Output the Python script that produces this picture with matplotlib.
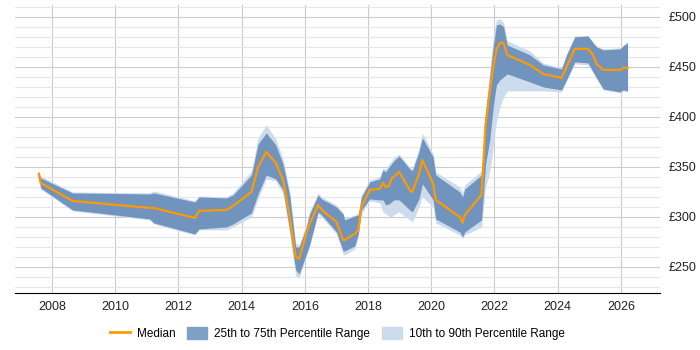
import matplotlib
matplotlib.use("Agg")
import matplotlib.pyplot as plt
from matplotlib.patches import Patch
from matplotlib.lines import Line2D
import numpy as np

plt.rcParams['font.family'] = ['Liberation Sans', 'DejaVu Sans']

# decimal year, then 10th, 25th, median, 75th, 90th percentile
years = [2007.58, 2007.64, 2008.65, 2011.09, 2011.22, 2012.52, 2012.65, 2013.52, 2013.73,
         2014.31, 2014.52, 2014.78, 2015.08, 2015.31, 2015.52, 2015.71, 2015.82, 2016.05,
         2016.15, 2016.42, 2016.53, 2017.00, 2017.21, 2017.26, 2017.58, 2017.69, 2017.79,
         2018.05, 2018.37, 2018.47, 2018.56, 2018.66, 2018.74, 2018.81, 2018.98, 2019.32,
         2019.40, 2019.61, 2019.72, 2020.06, 2020.14, 2020.90, 2020.99, 2021.06, 2021.59,
         2021.72, 2021.85, 2021.96, 2022.06, 2022.17, 2022.29, 2022.40, 2023.12, 2023.54,
         2024.12, 2024.28, 2024.54, 2024.96, 2025.12, 2025.23, 2025.44, 2025.97, 2026.07,
         2026.21]
p10 = [342, 328, 306, 297, 293, 282, 287, 287, 290,
       300, 318, 338, 336, 323, 283, 241, 239, 261,
       270, 303, 300, 283, 263, 262, 268, 280, 303,
       316, 314, 305, 303, 301, 300, 302, 305, 297,
       295, 310, 320, 310, 294, 282, 278, 282, 290,
       330, 345, 370, 395, 410, 420, 426, 426, 426,
       425, 436, 453, 452, 444, 438, 427, 424, 426,
       425]
p25 = [340, 329, 307, 298, 294, 283, 288, 290, 293,
       304, 323, 342, 338, 327, 287, 247, 243, 263,
       272, 305, 302, 285, 266, 266, 271, 283, 307,
       318, 317, 317, 312, 313, 315, 317, 317, 307,
       305, 318, 333, 317, 298, 285, 280, 285, 297,
       353, 377, 410, 432, 437, 440, 443, 435, 430,
       427, 437, 455, 454, 445, 439, 428, 425, 427,
       426]
median = [343, 334, 316, 309, 309, 299, 306, 307, 311,
          325, 350, 365, 354, 337, 300, 260, 258, 284,
          293, 312, 307, 295, 277, 277, 283, 287, 310,
          327, 328, 334, 330, 331, 338, 340, 345, 327,
          325, 343, 357, 333, 317, 300, 294, 302, 322,
          393, 425, 450, 467, 474, 474, 462, 452, 443,
          439, 450, 468, 468, 462, 453, 447, 447, 449,
          449]
p75 = [345, 339, 324, 323, 324, 315, 320, 319, 322,
       342, 373, 384, 372, 353, 322, 270, 270, 290,
       303, 322, 318, 310, 303, 297, 301, 302, 320,
       335, 338, 347, 345, 350, 353, 356, 361, 348,
       346, 365, 379, 360, 342, 325, 320, 328, 342,
       403, 440, 470, 492, 493, 490, 472, 462, 452,
       448, 462, 480, 481, 474, 470, 467, 468, 471,
       474]
p90 = [347, 341, 325, 324, 326, 316, 321, 320, 324,
       346, 379, 392, 378, 358, 326, 274, 272, 293,
       305, 324, 320, 312, 304, 299, 302, 304, 322,
       337, 340, 349, 348, 353, 356, 359, 363, 350,
       348, 369, 384, 363, 345, 330, 324, 332, 346,
       410, 445, 480, 497, 498, 494, 476, 466, 454,
       449, 463, 481, 481, 475, 471, 468, 469, 472,
       475]

fig = plt.figure(figsize=(7, 3.5), dpi=100)
ax = fig.add_axes([0.021, 0.163, 0.922, 0.823])

ax.fill_between(years, p10, p90, color='#cddcec', linewidth=0)
ax.fill_between(years, p25, p75, color='#7094be', linewidth=0)
ax.plot(years, median, color='#ff9900', linewidth=1.6)

ax.set_xlim(2006.82, 2027.24)
ax.set_ylim(224, 512)
ax.set_xticks(range(2008, 2027, 2))
ax.set_yticks(range(250, 501, 50))
ax.set_yticks(range(230, 512, 10), minor=True)
ax.set_yticklabels(['£%d' % v for v in range(250, 501, 50)])
ax.yaxis.tick_right()
ax.tick_params(axis='both', which='both', length=0, labelsize=9, colors='#222222', pad=6)
ax.tick_params(axis='y', which='minor', length=0)
ax.grid(which='major', color='#cccccc', linewidth=0.8)
ax.grid(which='minor', axis='y', color='#e6e6e6', linewidth=0.8)
ax.set_axisbelow(True)
for s in ['top', 'right', 'left']:
    ax.spines[s].set_visible(False)
ax.spines['bottom'].set_color('#000000')

handles = [Line2D([0], [0], color='#ff9900', linewidth=2),
           Patch(color='#7f9fc6'),
           Patch(color='#cddcec')]
fig.legend(handles, ['Median', '25th to 75th Percentile Range', '10th to 90th Percentile Range'],
           loc='center', bbox_to_anchor=(0.482, 0.047), ncol=3, frameon=False, fontsize=8.5,
           handlelength=1.7, handleheight=1.1, columnspacing=1.0, handletextpad=0.6)

fig.savefig('out.png', dpi=100)
